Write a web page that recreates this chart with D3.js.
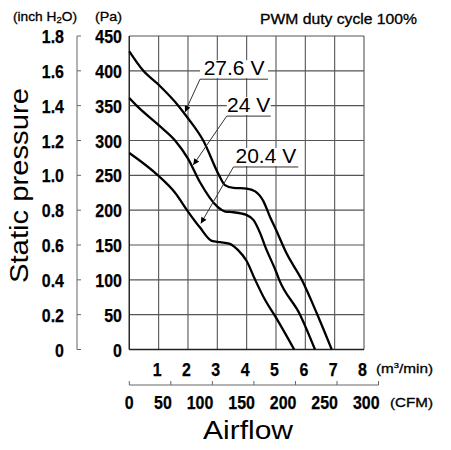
<!DOCTYPE html>
<html>
<head>
<meta charset="utf-8">
<script src="https://cdn.jsdelivr.net/npm/d3@7"></script>
<style>
  body { margin: 0; background: #fff; }
  svg { display: block; }
</style>
</head>
<body>
<div class="chart"></div>
<script>
// airflow (m3/min) vs static pressure (Pa)
const flow276 = [0, 0.48, 1.0, 1.67, 2.0, 2.52, 3.06, 3.26, 3.55, 4.0, 4.29, 4.57, 4.79, 5.0, 5.36, 5.88, 6.39, 6.9];
const pres276 = [428, 400, 380, 350, 332, 300, 250, 236, 232, 231, 227, 213, 191, 172, 138, 100, 52, 0];

const flow24 = [0, 0.25, 1.0, 1.56, 2.0, 2.41, 3.0, 3.27, 3.55, 4.0, 4.23, 4.46, 4.63, 5.0, 5.11, 5.82, 6.33];
const pres24 = [361, 350, 322, 300, 274, 240, 205, 198, 197, 193, 186, 167, 148, 112, 100, 50, 0];

const flow204 = [0, 1.0, 1.56, 2.0, 2.41, 2.81, 3.1, 3.4, 3.7, 4.0, 4.29, 4.63, 4.94, 5.62];
const pres204 = [282, 249, 225, 198, 175, 156, 154, 152, 143, 127, 100, 71, 50, 0];

const seriesNames = ["27.6 V", "24 V", "20.4 V"];

// tick labels
const paTicks = [0, 50, 100, 150, 200, 250, 300, 350, 400, 450];
const inchTicks = ["0", "0.2", "0.4", "0.6", "0.8", "1.0", "1.2", "1.4", "1.6", "1.8"];
const m3Ticks = [1, 2, 3, 4, 5, 6, 7, 8];
const cfmTicks = [0, 50, 100, 150, 200, 250, 300];

// label anchor (underline) and arrow tip, in data units
const labelLeft = [2.41, 3.32, 3.55];
const labelRight = [4.73, 4.82, 5.76];
const labelPres = [388, 335, 262];
const tipFlow = [1.9, 2.18, 2.44];
const tipPres = [341, 265, 181];

const W = 451, H = 450;
const plotL = 129.3, plotR = 364, plotT = 36, plotB = 349.5;

const svg = d3.select(".chart").append("svg")
  .attr("width", W).attr("height", H);

const x = d3.scaleLinear().domain([0, 8]).range([plotL, plotR]);
const y = d3.scaleLinear().domain([0, 450]).range([plotB, plotT]);
const yInch = d3.scaleLinear().domain([0, 1.8]).range([plotB, plotT]);
const cfmPerM3 = 35.3147;
const xCfm = d3.scaleLinear().domain([0, 300]).range([plotL, x(300 / cfmPerM3)]);

const txtFont = "'Liberation Sans', Arial, sans-serif";

// squeeze or stretch a text horizontally
function fit(sel, k) {
  sel.each(function () {
    const len = this.getComputedTextLength();
    d3.select(this).attr("textLength", len * k).attr("lengthAdjust", "spacingAndGlyphs");
  });
}
function fitTo(sel, w) {
  sel.attr("textLength", w).attr("lengthAdjust", "spacingAndGlyphs");
}
function num(sel) {
  sel.style("font-family", txtFont).style("font-weight", "bold").style("font-size", "19px")
    .style("stroke", "#000").style("stroke-width", 0.25);
}
function small(sel) {
  sel.style("font-family", txtFont).style("font-size", "13px")
    .style("stroke", "#000").style("stroke-width", 0.3);
}

// grid
const grid = svg.append("g").attr("stroke", "#555").attr("stroke-width", 1.1);
grid.selectAll("line.v").data(d3.range(0, 9)).join("line")
  .attr("x1", d => x(d)).attr("x2", d => x(d))
  .attr("y1", plotT).attr("y2", plotB);
grid.selectAll("line.h").data(paTicks).join("line")
  .attr("x1", plotL).attr("x2", plotR)
  .attr("y1", d => y(d)).attr("y2", d => y(d));

svg.append("line").attr("x1", plotL).attr("x2", plotL).attr("y1", plotT).attr("y2", plotB)
  .attr("stroke", "#222").attr("stroke-width", 1.3);
svg.append("line").attr("x1", plotL).attr("x2", plotR).attr("y1", plotB).attr("y2", plotB)
  .attr("stroke", "#222").attr("stroke-width", 1.3);

// Pa labels
svg.append("g").selectAll("text").data(paTicks).join("text")
  .attr("x", 122).attr("y", d => y(d) + 7)
  .attr("text-anchor", "end")
  .call(num).text(d => d).call(fit, 0.84);

// inch H2O axis
const inch = svg.append("g");
inch.append("line").attr("x1", 77).attr("x2", 77)
  .attr("y1", yInch(1.8)).attr("y2", yInch(0))
  .attr("stroke", "#666").attr("stroke-width", 1);
inch.selectAll("line.t").data(inchTicks).join("line")
  .attr("x1", 77).attr("x2", 81)
  .attr("y1", d => yInch(+d)).attr("y2", d => yInch(+d))
  .attr("stroke", "#666").attr("stroke-width", 1);
inch.selectAll("text").data(inchTicks).join("text")
  .attr("x", 64).attr("y", d => yInch(+d) + 7)
  .attr("text-anchor", "end")
  .call(num).text(d => d).call(fit, 0.84);

// m3/min labels
svg.append("g").selectAll("text").data(m3Ticks).join("text")
  .attr("x", d => x(d) - 1.5).attr("y", 376)
  .attr("text-anchor", "middle")
  .call(num).text(d => d).call(fit, 0.84);
svg.append("text").attr("x", 376).attr("y", 373)
  .call(small)
  .html("(m<tspan font-size='8px' dy='-5'>3</tspan><tspan dy='5'>/min)</tspan>")
  .call(fitTo, 57);

// CFM axis
const cfm = svg.append("g");
cfm.append("line").attr("x1", xCfm(0)).attr("x2", xCfm(300))
  .attr("y1", 385).attr("y2", 385).attr("stroke", "#666").attr("stroke-width", 1);
cfm.selectAll("line.t").data(cfmTicks).join("line")
  .attr("x1", d => xCfm(d)).attr("x2", d => xCfm(d))
  .attr("y1", 385).attr("y2", 381).attr("stroke", "#666").attr("stroke-width", 1);
cfm.selectAll("text").data(cfmTicks).join("text")
  .attr("x", d => d === 0 ? xCfm(d) : xCfm(d) + 1)
  .attr("y", 409)
  .attr("text-anchor", d => d === 0 ? "middle" : "end")
  .call(num).text(d => d).call(fit, 0.84);
svg.append("text").attr("x", 390).attr("y", 407)
  .call(small)
  .text("(CFM)").call(fitTo, 43);

// headers
svg.append("text").attr("x", 13).attr("y", 21)
  .call(small)
  .html("(inch H<tspan font-size='9px' dy='2'>2</tspan><tspan dy='-2'>O)</tspan>")
  .call(fitTo, 64);
svg.append("text").attr("x", 95).attr("y", 21)
  .call(small)
  .text("(Pa)").call(fitTo, 27);
svg.append("text").attr("x", 260).attr("y", 24)
  .call(small).style("font-size", "14px")
  .text("PWM duty cycle 100%").call(fitTo, 157);

// axis titles
svg.append("text").attr("x", 203).attr("y", 439)
  .style("font-family", txtFont).style("font-size", "25px")
  .text("Airflow").call(fitTo, 90);
svg.append("text")
  .attr("transform", "translate(28,283) rotate(-90)")
  .style("font-family", txtFont).style("font-size", "25px")
  .text("Static pressure").call(fitTo, 195);

// curves
const curves = [
  flow276.map((f, i) => [f, pres276[i]]),
  flow24.map((f, i) => [f, pres24[i]]),
  flow204.map((f, i) => [f, pres204[i]]),
];
const line = d3.line().x(d => x(d[0])).y(d => y(d[1])).curve(d3.curveMonotoneX);
svg.append("g").selectAll("path").data(curves).join("path")
  .attr("d", line)
  .attr("fill", "none").attr("stroke", "#000").attr("stroke-width", 2.3);

// labels with leaders
svg.append("defs").append("marker")
  .attr("id", "arrow").attr("viewBox", "0 0 10 10")
  .attr("refX", 10).attr("refY", 5)
  .attr("markerWidth", 8).attr("markerHeight", 6)
  .attr("markerUnits", "userSpaceOnUse")
  .attr("orient", "auto")
  .append("path").attr("d", "M0,0L10,5L0,10z").attr("fill", "#000");

const ann = svg.append("g");
seriesNames.forEach((name, i) => {
  const yl = y(labelPres[i]);
  ann.append("rect")
    .attr("x", x(labelLeft[i])).attr("y", yl - 19)
    .attr("width", x(labelRight[i]) - x(labelLeft[i])).attr("height", 18)
    .attr("fill", "#fff");
  ann.append("line")
    .attr("x1", x(labelLeft[i])).attr("x2", x(labelRight[i]))
    .attr("y1", yl).attr("y2", yl)
    .attr("stroke", "#333").attr("stroke-width", 1);
  ann.append("line")
    .attr("x1", x(labelLeft[i])).attr("y1", yl)
    .attr("x2", x(tipFlow[i])).attr("y2", y(tipPres[i]))
    .attr("stroke", "#333").attr("stroke-width", 1)
    .attr("marker-end", "url(#arrow)");
  ann.append("text")
    .attr("x", (x(labelLeft[i]) + x(labelRight[i])) / 2).attr("y", yl - 4)
    .attr("text-anchor", "middle")
    .style("font-family", txtFont).style("font-size", "21px")
    .text(name);
});
</script>
</body>
</html>
